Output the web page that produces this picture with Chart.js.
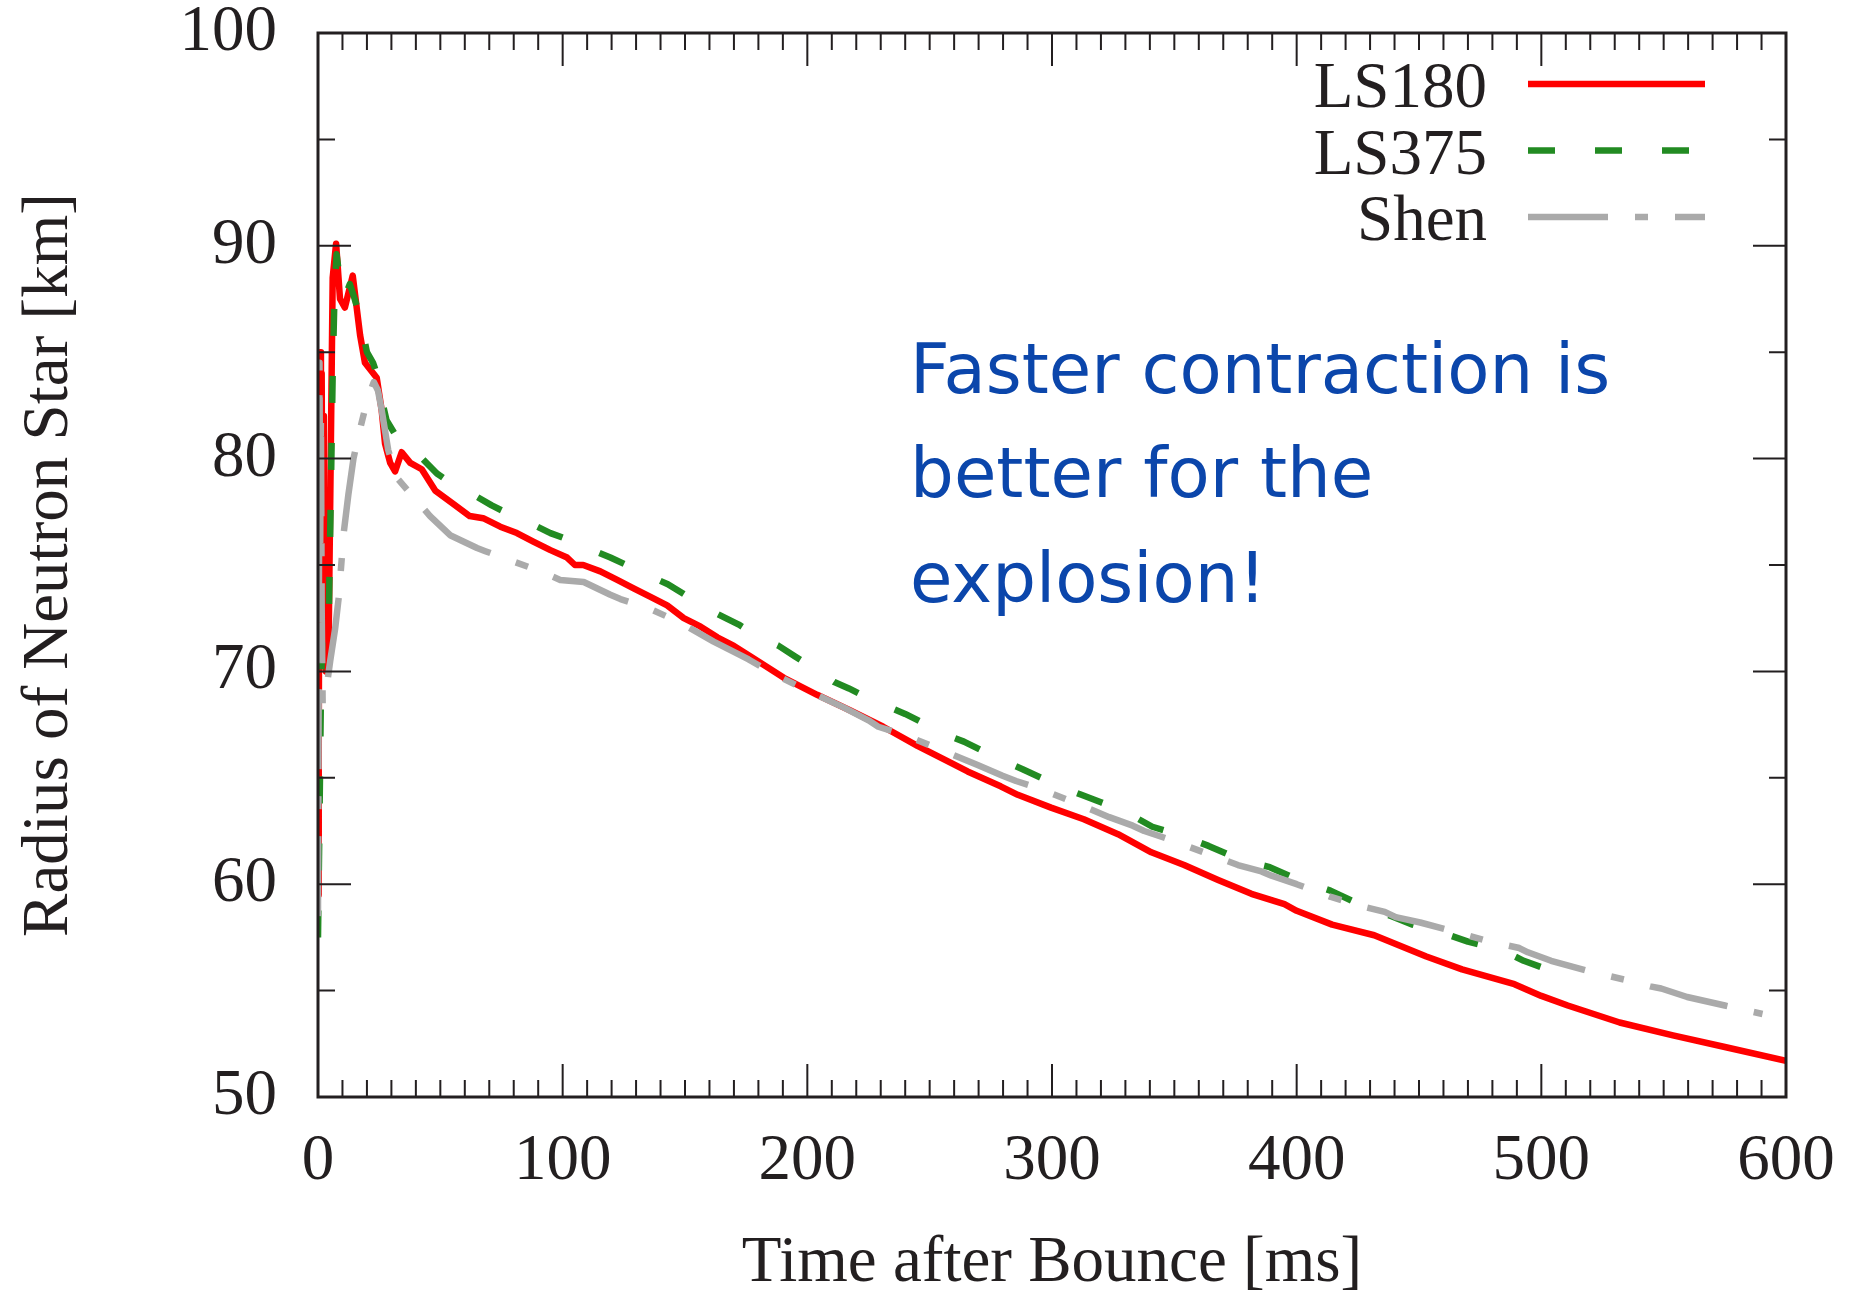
<!DOCTYPE html>
<html>
<head>
<meta charset="utf-8">
<title>Radius of Neutron Star</title>
<script src="https://cdn.jsdelivr.net/npm/chart.js@4.4.1/dist/chart.umd.min.js"></script>
<style>
  html, body { margin: 0; padding: 0; background: #ffffff; }
  canvas { display: block; }
</style>
</head>
<body>
<canvas id="chart" width="1849" height="1300"></canvas>
<script>
// time after bounce [ms] and neutron star radius [km], one pair per EOS
const ls180Time = [0, 0.3, 0.6, 0.9, 1.2, 1.5, 1.8, 2.1, 2.4, 3.2, 4.3, 5.2, 6.0, 7.4, 9, 11, 14.2, 17.2, 19.2, 24, 26, 27.4, 29.5, 31.5, 34.2, 37.7, 42.4, 47.9, 55, 62, 67.5, 74.5, 81.3, 88, 95, 101.8, 105, 108.4, 115.4, 122.3, 129, 135.9, 142.7, 149.5, 156.4, 163.2, 170, 176.8, 183.7, 190.4, 204, 217.8, 231, 245, 258.7, 265.5, 279, 286, 299.6, 313, 327, 340.6, 354, 367.9, 381.5, 395, 400, 414.5, 431.7, 453, 467.6, 489, 500, 510.8, 532, 553.8, 575, 600];
const ls180Radius = [59.5, 66, 80, 85, 77, 84, 75, 82, 72, 70, 71, 80, 88.5, 90.1, 87.5, 87.1, 88.6, 85.8, 84.5, 83.8, 82.3, 80.7, 79.8, 79.4, 80.3, 79.8, 79.5, 78.5, 77.9, 77.3, 77.2, 76.8, 76.5, 76.1, 75.7, 75.35, 75.0, 75.0, 74.7, 74.3, 73.9, 73.5, 73.1, 72.5, 72.1, 71.6, 71.2, 70.7, 70.2, 69.7, 68.9, 68.15, 67.4, 66.5, 65.7, 65.3, 64.6, 64.2, 63.6, 63.05, 62.35, 61.5, 60.9, 60.2, 59.55, 59.06, 58.75, 58.1, 57.6, 56.6, 56.0, 55.3, 54.75, 54.3, 53.5, 52.9, 52.35, 51.7];

const ls375Time = [0, 0.6, 1.2, 1.8, 3, 4.4, 5.2, 6.0, 6.8, 7.6, 9, 11, 13, 15, 17, 20, 22.5, 24, 26, 28, 32.8, 41.8, 48.6, 55, 62, 71, 78, 86, 95, 102, 110, 119.5, 127, 134, 143, 150, 156.4, 165, 172, 179, 188.3, 195, 202, 211, 217, 224, 232, 240, 247, 257, 264, 271, 280, 288, 295.5, 305, 312, 320, 330, 341, 351, 357, 364, 374, 382, 389, 398.8, 406, 413.8, 423, 431, 438.8, 447.4, 455, 462.5, 470, 477, 484, 492.8, 500, 508.6];
const ls375Radius = [57.5, 63, 69, 71.8, 72, 72.5, 78, 84, 88, 89.6, 88.3, 87.6, 88.2, 87.5, 86.7, 85.0, 84.5, 84, 82.8, 81.8, 80.9, 80.1, 79.3, 78.8, 78.4, 77.8, 77.4, 77.0, 76.5, 76.2, 75.8, 75.35, 74.95, 74.55, 74.1, 73.6, 73.1, 72.6, 72.2, 71.7, 71.2, 70.7, 70.2, 69.5, 69.2, 68.8, 68.4, 68.0, 67.6, 67.0, 66.7, 66.3, 65.8, 65.4, 65.0, 64.5, 64.2, 63.85, 63.4, 62.7, 62.35, 62.1, 61.8, 61.3, 61.0, 60.8, 60.3, 60.0, 59.7, 59.2, 58.8, 58.5, 58.1, 57.85, 57.6, 57.3, 57.1, 56.9, 56.4, 56.1, 55.8];

const shenTime = [0, 0.3, 0.6, 0.9, 1.2, 1.5, 1.9, 3, 5, 7, 8.5, 10.5, 12.4, 14.5, 17, 20, 22.8, 24.5, 26, 28.7, 32.2, 39, 45.8, 54, 65, 68.4, 79, 91, 99, 108.6, 119.5, 123.6, 134.5, 148, 161.7, 172, 176, 186, 200, 215, 225, 229, 240, 255, 269.6, 279.8, 285.3, 294.7, 310, 323.4, 333, 337.7, 348, 362, 376, 385.6, 389.7, 400, 414, 428.8, 436, 440.5, 450.5, 465, 479, 491, 494.5, 504, 520, 534.5, 544.5, 549, 559.6, 575, 590.4];
const shenRadius = [58.5, 70, 84.5, 76, 82, 73, 68.5, 68.8, 70.5, 72, 73.5, 76.5, 78.3, 80, 81.3, 82.7, 83.6, 83.2, 82.3, 80.4, 79.1, 78.2, 77.3, 76.4, 75.8, 75.65, 75.2, 74.7, 74.3, 74.2, 73.6, 73.4, 73.0, 72.3, 71.4, 70.8, 70.56, 69.9, 69.1, 68.3, 67.7, 67.4, 67.0, 66.3, 65.6, 65.1, 64.85, 64.5, 63.8, 63.15, 62.75, 62.5, 62.1, 61.5, 60.9, 60.6, 60.4, 60.0, 59.4, 58.9, 58.7, 58.45, 58.2, 57.75, 57.3, 57.0, 56.8, 56.4, 55.9, 55.5, 55.2, 55.1, 54.7, 54.3, 53.9];

const seriesNames = ['LS180', 'LS375', 'Shen'];

const timeTicks = [0, 100, 200, 300, 400, 500, 600];
const radiusTicks = [50, 60, 70, 80, 90, 100];
const timeMinorStep = 10;
const radiusMinorStep = 5;

const noteLines = ['Faster contraction is', 'better for the', 'explosion!'];

const serif = '"Liberation Serif", "Times New Roman", serif';
const ink = '#231f20';

function zip(xs, ys) {
  return xs.map((x, i) => ({ x: x, y: ys[i] }));
}

function setTicks(values) {
  return (axis) => { axis.ticks = values.map(v => ({ value: v })); };
}

// fixed axis box size, and no extra room for labels hanging past the ends
function fixSize(prop, size) {
  return (axis) => {
    axis[prop] = size;
    axis.paddingTop = 0;
    axis.paddingBottom = 0;
    axis.paddingLeft = 0;
    axis.paddingRight = 0;
  };
}

// box frame with inward ticks on all four sides
const framePlugin = {
  id: 'frame',
  afterDatasetsDraw(chart) {
    const { ctx, chartArea: a, scales: { x, y } } = chart;
    ctx.save();
    ctx.strokeStyle = ink;
    ctx.lineWidth = 2;
    ctx.beginPath();
    for (let t = x.min; t <= x.max; t += timeMinorStep) {
      const px = x.getPixelForValue(t);
      const len = timeTicks.includes(t) ? 33 : 17;
      ctx.moveTo(px, a.bottom); ctx.lineTo(px, a.bottom - len);
      ctx.moveTo(px, a.top); ctx.lineTo(px, a.top + len);
    }
    for (let r = y.min; r <= y.max; r += radiusMinorStep) {
      const py = y.getPixelForValue(r);
      const len = radiusTicks.includes(r) ? 33 : 17;
      ctx.moveTo(a.left, py); ctx.lineTo(a.left + len, py);
      ctx.moveTo(a.right, py); ctx.lineTo(a.right - len, py);
    }
    ctx.stroke();
    ctx.lineWidth = 3;
    ctx.strokeRect(a.left, a.top, a.right - a.left, a.bottom - a.top);
    ctx.restore();
  }
};

// key in the top right corner, label left of the line sample
const keyPlugin = {
  id: 'key',
  afterDraw(chart) {
    const { ctx, chartArea: a } = chart;
    ctx.save();
    ctx.font = '65px ' + serif;
    ctx.textAlign = 'right';
    ctx.textBaseline = 'alphabetic';
    ctx.fillStyle = ink;
    chart.data.datasets.forEach((ds, i) => {
      const rowY = a.top + 51 + i * 66.5;
      ctx.fillText(ds.label, a.right - 299, rowY + 23);
      ctx.strokeStyle = ds.borderColor;
      ctx.lineWidth = ds.borderWidth;
      ctx.lineCap = 'butt';
      ctx.setLineDash(ds.borderDash || []);
      ctx.beginPath();
      ctx.moveTo(a.right - 258, rowY);
      ctx.lineTo(a.right - 81, rowY);
      ctx.stroke();
    });
    ctx.restore();
  }
};

// blue note placed in data coordinates
const notePlugin = {
  id: 'note',
  afterDraw(chart) {
    const { ctx, scales: { x, y } } = chart;
    ctx.save();
    ctx.font = '69px "DejaVu Sans", sans-serif';
    ctx.fillStyle = '#0b46ab';
    ctx.textAlign = 'left';
    ctx.textBaseline = 'alphabetic';
    const left = x.getPixelForValue(242);
    noteLines.forEach((line, i) => {
      ctx.fillText(line, left, y.getPixelForValue(83.1 - i * 4.92));
    });
    ctx.restore();
  }
};

const ctx = document.getElementById('chart').getContext('2d');
new Chart(ctx, {
  type: 'line',
  data: {
    // later curves are laid over earlier ones
    datasets: [
      {
        label: seriesNames[0],
        data: zip(ls180Time, ls180Radius),
        borderColor: '#ff0000',
        borderWidth: 6.5,
        order: 2
      },
      {
        label: seriesNames[1],
        data: zip(ls375Time, ls375Radius),
        borderColor: '#228b22',
        borderWidth: 6.5,
        borderDash: [27, 40],
        order: 1
      },
      {
        label: seriesNames[2],
        data: zip(shenTime, shenRadius),
        borderColor: '#aaaaaa',
        borderWidth: 6.5,
        borderDash: [80, 27, 13, 27],
        order: 0
      }
    ]
  },
  options: {
    responsive: false,
    animation: false,
    layout: { padding: { top: 33, right: 63, left: 0, bottom: 0 } },
    elements: {
      point: { radius: 0 },
      line: { tension: 0, borderJoinStyle: 'round', borderCapStyle: 'butt' }
    },
    scales: {
      x: {
        type: 'linear',
        min: 0,
        max: 600,
        afterBuildTicks: setTicks(timeTicks),
        afterFit: fixSize('height', 203),
        grid: { display: false, drawTicks: false },
        border: { display: false },
        ticks: {
          color: ink,
          padding: 26,
          maxRotation: 0,
          font: { family: serif, size: 65 }
        },
        title: {
          display: true,
          text: 'Time after Bounce [ms]',
          color: ink,
          padding: { top: 0, bottom: -3 },
          font: { family: serif, size: 65 }
        }
      },
      y: {
        type: 'linear',
        min: 50,
        max: 100,
        afterBuildTicks: setTicks(radiusTicks),
        afterFit: fixSize('width', 318),
        grid: { display: false, drawTicks: false },
        border: { display: false },
        ticks: {
          color: ink,
          padding: 41,
          font: { family: serif, size: 65 }
        },
        title: {
          display: true,
          text: 'Radius of Neutron Star [km]',
          color: ink,
          padding: { top: 11, bottom: 0 },
          font: { family: serif, size: 65 }
        }
      }
    },
    plugins: {
      legend: { display: false },
      tooltip: { enabled: false }
    }
  },
  plugins: [framePlugin, keyPlugin, notePlugin]
});
</script>
</body>
</html>
